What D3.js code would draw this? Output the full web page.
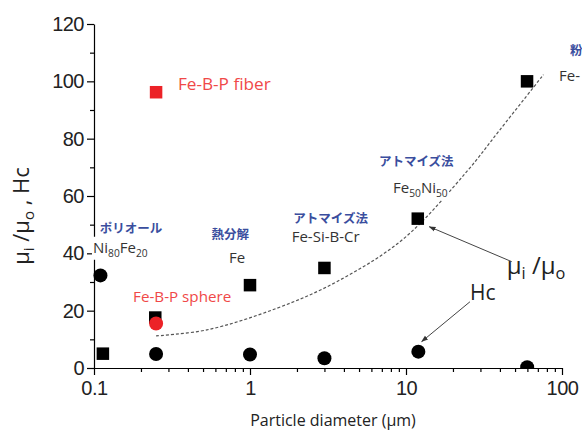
<!DOCTYPE html>
<html>
<head>
<meta charset="utf-8">
<script src="https://cdn.jsdelivr.net/npm/d3@7"></script>
<style>
  html, body { margin: 0; padding: 0; background: #fff; }
  svg { display: block; }
</style>
</head>
<body>
<svg id="chart" width="582" height="434"></svg>
<script>
// ---- data ----
const sqX = [0.114, 0.247, 1.0, 3.0, 11.9, 59.7];     // μi/μo (squares)
const sqY = [5.0, 17.6, 28.9, 34.9, 52.1, 100.0];
const ciX = [0.110, 0.25, 1.0, 3.0, 12.0, 59.8];       // Hc (circles)
const ciY = [32.3, 4.9, 4.7, 3.4, 5.7, 0.3];
const redSqX = [0.25], redSqY = [96.2];                  // Fe-B-P fiber
const redCiX = [0.25], redCiY = [15.5];                  // Fe-B-P sphere
const curveX = [0.25, 0.53, 1.48, 3.6, 9.6, 24.5, 40, 76];
const curveY = [11.2, 13.3, 20.8, 30.1, 45.0, 68.5, 83.1, 102.3];
const yTicks = [0, 20, 40, 60, 80, 100, 120];
const yMinor = [10, 30, 50, 70, 90, 110];
const xTicks = [0.1, 1, 10, 100];
const xTickLabels = ["0.1", "1", "10", "100"];

// ---- layout ----
const svg = d3.select("#chart");
const x = d3.scaleLog().domain([0.1, 100]).range([94, 562]);
const y = d3.scaleLinear().domain([0, 120]).range([368, 24]);

const tickFont = "'Liberation Sans', Arial, sans-serif";
const txtFont = "'Open Sans', 'Noto Sans', sans-serif";
const jpFont = "'Noto Sans CJK JP', sans-serif";

const defs = svg.append("defs");
defs.append("clipPath").attr("id", "plot")
  .append("rect").attr("x", 0).attr("y", 0).attr("width", 582).attr("height", y(0));
defs.append("marker").attr("id", "arrow").attr("viewBox", "0 0 10 10")
  .attr("refX", 9).attr("refY", 5).attr("markerWidth", 7).attr("markerHeight", 7)
  .attr("markerUnits", "userSpaceOnUse").attr("orient", "auto")
  .append("path").attr("d", "M0,1.5 L10,5 L0,8.5 Z").attr("fill", "#333");

// ---- axes ----
svg.append("g").attr("transform", `translate(${x(0.1)},0)`)
  .call(d3.axisLeft(y).tickValues(yTicks).tickSize(7).tickSizeOuter(0).tickPadding(3));
svg.append("g").attr("transform", `translate(${x(0.1)},0)`)
  .call(d3.axisLeft(y).tickValues(yMinor).tickSize(4).tickSizeOuter(0).tickFormat(""))
  .select(".domain").remove();

const xMinor = [];
for (let d = 0.1; d < 100; d *= 10) for (let k = 2; k <= 9; k++) xMinor.push(+(d * k).toPrecision(3));
svg.append("g").attr("transform", `translate(0,${y(0)})`)
  .call(d3.axisBottom(x).tickValues(xTicks).tickSize(7).tickSizeOuter(0).tickPadding(6)
    .tickFormat((d, i) => xTickLabels[i]));
svg.append("g").attr("transform", `translate(0,${y(0)})`)
  .call(d3.axisBottom(x).tickValues(xMinor).tickSize(4).tickSizeOuter(0).tickFormat(""))
  .select(".domain").remove();

svg.selectAll(".tick text").attr("font-family", tickFont).attr("font-size", 20)
  .attr("letter-spacing", "-0.5").attr("fill", "#222");
svg.selectAll(".domain, .tick line").attr("stroke", "#000").attr("stroke-width", 1.2);

// axis titles
svg.append("text").attr("x", 333).attr("y", 426).attr("text-anchor", "middle")
  .attr("font-family", txtFont).attr("font-size", 16).attr("fill", "#222")
  .text("Particle diameter (μm)");

function rich(t, parts, size) {
  parts.forEach(p => {
    const s = t.append("tspan").text(p.t);
    if (p.sub) s.attr("font-size", size * 0.68);
    if (p.dy) s.attr("dy", p.dy);
  });
}
const yt = svg.append("text").attr("transform", "translate(29,216) rotate(-90)")
  .attr("text-anchor", "middle").attr("font-family", txtFont).attr("font-size", 22).attr("fill", "#222");
rich(yt, [{t: "μ"}, {t: "i", sub: true, dy: 5}, {t: " /μ", dy: -5}, {t: "o", sub: true, dy: 5}, {t: " , Hc", dy: -5}], 22);

// ---- curve ----
svg.append("path")
  .datum(curveX.map((d, i) => [d, curveY[i]]))
  .attr("fill", "none").attr("stroke", "#555").attr("stroke-width", 1.2)
  .attr("stroke-dasharray", "3,2")
  .attr("d", d3.line().x(d => x(d[0])).y(d => y(d[1])).curve(d3.curveCatmullRom.alpha(0.5)));

// ---- labels ----
const blue = "#3a4e9e", dark = "#333", red = "#f04848";
function label(xv, yv, parts, opts) {
  const g = svg.append("g");
  const bg = g.append("rect").attr("fill", "#fff");
  const t = g.append("text").attr("x", x(xv)).attr("y", y(yv))
    .attr("font-family", opts.font).attr("font-size", opts.size)
    .attr("font-weight", opts.weight || "normal").attr("fill", opts.color);
  rich(t, parts, opts.size);
  if (opts.bg) {
    const b = t.node().getBBox();
    bg.attr("x", b.x - 1).attr("y", b.y).attr("width", b.width + 2).attr("height", b.height);
  }
  return g;
}
const jp = {font: jpFont, size: 12.5, weight: "bold", color: blue, bg: true};
const bk = {font: txtFont, size: 15, color: dark, bg: true};
label(0.109, 47.1, [{t: "ポリオール"}], jp);
label(0.0985, 40.2, [{t: "Ni"}, {t: "80", sub: true, dy: 4}, {t: "Fe", dy: -4}, {t: "20", sub: true, dy: 4}], bk);
label(0.567, 45.0, [{t: "熱分解"}], jp);
label(0.733, 36.5, [{t: "Fe"}], bk);
label(1.895, 50.5, [{t: "アトマイズ法"}], jp);
label(1.85, 44.1, [{t: "Fe-Si-B-Cr"}], bk);
label(6.71, 70.5, [{t: "アトマイズ法"}], jp);
label(8.26, 61.0, [{t: "Fe"}, {t: "50", sub: true, dy: 4}, {t: "Ni", dy: -4}, {t: "50", sub: true, dy: 4}], bk);
label(112.5, 109.2, [{t: "粉"}], jp);
label(95.7, 100.1, [{t: "Fe-"}], bk);
label(0.345, 97.0, [{t: "Fe-B-P fiber"}], {font: txtFont, size: 17.2, color: red});
label(0.178, 23.0, [{t: "Fe-B-P sphere"}], {font: txtFont, size: 15.2, color: red});

// ---- markers ----
const plot = svg.append("g").attr("clip-path", "url(#plot)");
const S = 12.5;
plot.selectAll("rect.sq").data(sqX.map((d, i) => [d, sqY[i]])).join("rect").attr("class", "sq")
  .attr("x", d => x(d[0]) - S / 2).attr("y", d => y(d[1]) - S / 2).attr("width", S).attr("height", S)
  .attr("fill", "#000");
plot.selectAll("circle.ci").data(ciX.map((d, i) => [d, ciY[i]])).join("circle").attr("class", "ci")
  .attr("cx", d => x(d[0])).attr("cy", d => y(d[1])).attr("r", 7).attr("fill", "#000");
plot.selectAll("rect.rsq").data(redSqX.map((d, i) => [d, redSqY[i]])).join("rect").attr("class", "rsq")
  .attr("x", d => x(d[0]) - S / 2).attr("y", d => y(d[1]) - S / 2).attr("width", S).attr("height", S)
  .attr("fill", "#ec2227");
plot.selectAll("circle.rci").data(redCiX.map((d, i) => [d, redCiY[i]])).join("circle").attr("class", "rci")
  .attr("cx", d => x(d[0])).attr("cy", d => y(d[1])).attr("r", 7).attr("fill", "#ec2227");

// ---- annotations ----
const mu = svg.append("text").attr("x", x(44.2)).attr("y", y(32.8))
  .attr("font-family", txtFont).attr("font-size", 24).attr("fill", "#222");
rich(mu, [{t: "μ"}, {t: "i", sub: true, dy: 5}, {t: " /μ", dy: -5}, {t: "o", sub: true, dy: 5}], 24);
svg.append("text").attr("x", x(25.7)).attr("y", y(23.7))
  .attr("font-family", txtFont).attr("font-size", 21).attr("fill", "#222").text("Hc");

const arrows = [[47.6, 37.1, 14.1, 49.3], [25.7, 23.1, 12.6, 9.2]];
svg.selectAll("line.arr").data(arrows).join("line").attr("class", "arr")
  .attr("x1", d => x(d[0])).attr("y1", d => y(d[1])).attr("x2", d => x(d[2])).attr("y2", d => y(d[3]))
  .attr("stroke", "#444").attr("stroke-width", 1).attr("marker-end", "url(#arrow)");
</script>
</body>
</html>
